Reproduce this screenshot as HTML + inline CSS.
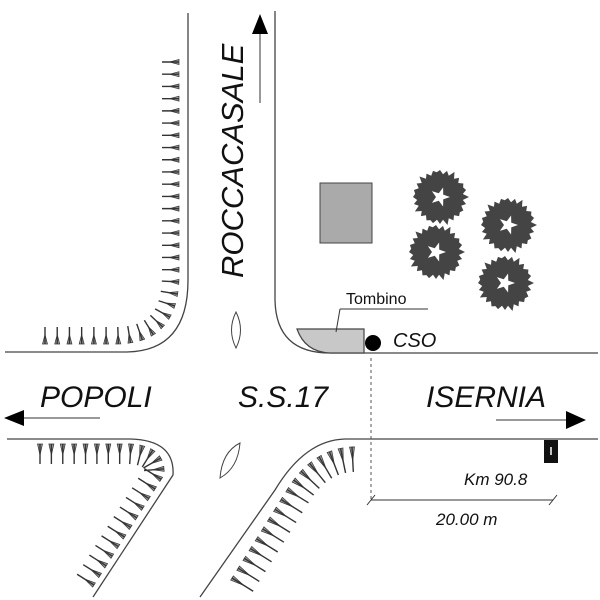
<!DOCTYPE html>
<html><head><style>body{margin:0;background:#fff}svg{display:block}text{font-family:"Liberation Sans",sans-serif;fill:#111}</style></head>
<body>
<svg id="s" width="600" height="600" viewBox="0 0 600 600" xmlns="http://www.w3.org/2000/svg">
<g fill="none" stroke="#444" stroke-width="1.3">
<path d="M188,13 V280 Q188,352 125,352 H5"/>
<path d="M275,11 V300 Q276,353 330,353 H598"/>
<path d="M7,439 H130 Q175,440 173,475 L93,597"/>
<path d="M598,439 H345 Q305,440 275,490 L200,597"/>
</g>
<path d="M297,329 H364 V353 H330 Q305,352 297,329 Z" fill="#c8c8c8" stroke="#444" stroke-width="1.2"/>
<rect x="320" y="183" width="52" height="60" fill="#aaa" stroke="#444"/>
<g id="teeth"></g>
<g id="trees"></g>
<path d="M236,312 Q227,330 236,348 Q245,330 236,312 Z" fill="#fff" stroke="#444"/>
<path d="M240,443 Q222,452 220,478 Q238,468 240,443 Z" fill="#fff" stroke="#444"/>
<text transform="translate(243,278) rotate(-90)" font-size="31" font-style="italic">ROCCACASALE</text>
<line x1="260" y1="103" x2="260" y2="30" stroke="#333"/>
<polygon points="260,14 252,34 268,34" fill="#000"/>
<text x="40" y="407" font-size="30" font-style="italic">POPOLI</text>
<line x1="20" y1="418" x2="100" y2="418" stroke="#333"/>
<polygon points="4,418 24,410 24,426" fill="#000"/>
<text x="238" y="407" font-size="30" font-style="italic">S.S.17</text>
<text x="426" y="407" font-size="30" font-style="italic">ISERNIA</text>
<line x1="496" y1="420" x2="570" y2="420" stroke="#333"/>
<polygon points="586,420 566,411 566,429" fill="#000"/>
<rect x="544" y="440" width="14" height="23" fill="#111"/>
<line x1="551" y1="447" x2="551" y2="455" stroke="#fff" stroke-width="1.5"/>
<text x="464" y="485" font-size="17" font-style="italic">Km 90.8</text>
<line x1="371" y1="358" x2="371" y2="500" stroke="#555" stroke-dasharray="3,3"/>
<line x1="371" y1="500" x2="553" y2="500" stroke="#333"/>
<line x1="367" y1="505" x2="375" y2="495" stroke="#333"/>
<line x1="549" y1="505" x2="557" y2="495" stroke="#333"/>
<text x="436" y="525" font-size="17" font-style="italic">20.00 m</text>
<circle cx="373" cy="343" r="8" fill="#000"/>
<text x="393" y="347" font-size="20" font-style="italic">CSO</text>
<text x="346" y="304" font-size="16">Tombino</text>
<line x1="340" y1="309" x2="428" y2="309" stroke="#333"/>
<line x1="340" y1="309" x2="336" y2="332" stroke="#333"/>
</svg>
<script>
var NS="http://www.w3.org/2000/svg";
var T=document.getElementById("teeth");
function teeth(d,n,len,side){
 var p=document.createElementNS(NS,"path");p.setAttribute("d",d);T.appendChild(p);
 var L=p.getTotalLength();T.removeChild(p);
 for(var i=0;i<=n;i++){var s=L*i/n,a=p.getPointAtLength(s),b=p.getPointAtLength(Math.min(L,s+0.5)),c=p.getPointAtLength(Math.max(0,s-0.5));
  var dx=b.x-c.x,dy=b.y-c.y,m=Math.hypot(dx,dy)||1;dx/=m;dy/=m;var nx=-dy*side,ny=dx*side;
  var g=document.createElementNS(NS,"polygon");
  g.setAttribute("points",(a.x-dx*2.5)+","+(a.y-dy*2.5)+" "+(a.x+dx*2.5)+","+(a.y+dy*2.5)+" "+(a.x+nx*len*0.55)+","+(a.y+ny*len*0.55));
  g.setAttribute("fill","#999");g.setAttribute("stroke","#333");g.setAttribute("stroke-width","0.7");T.appendChild(g);
  var l=document.createElementNS(NS,"line");l.setAttribute("x1",a.x);l.setAttribute("y1",a.y);l.setAttribute("x2",a.x+nx*len);l.setAttribute("y2",a.y+ny*len);
  l.setAttribute("stroke","#333");l.setAttribute("stroke-width","1.4");T.appendChild(l);}
}
teeth("M179,62 V275 Q179,344 115,344 H45",32,17,1);
teeth("M40,444 H130 Q166,446 164,475 L94,585",24,20,1);
teeth("M352,447 Q312,449 287,490 L232,578",16,25,-1);
var TR=document.getElementById("trees");
[[440,197],[508,225],[436,252],[505,283]].forEach(function(c){
 var pts=[],pi=[];for(var i=0;i<48;i++){var a=i*Math.PI/24,r=(i%2?23:27)+((i*7)%5==0?2:0);pts.push((c[0]+r*Math.cos(a))+","+(c[1]+r*Math.sin(a)));}
 for(var i=0;i<10;i++){var a=i*Math.PI/5,r=i%2?4:10;pi.push((c[0]+r*Math.cos(a))+","+(c[1]+r*Math.sin(a)));}
 var g=document.createElementNS(NS,"polygon");g.setAttribute("points",pts.join(" "));g.setAttribute("fill","#444");TR.appendChild(g);
 var w=document.createElementNS(NS,"polygon");w.setAttribute("points",pi.join(" "));w.setAttribute("fill","#fff");TR.appendChild(w);
});
</script>
</body></html>
